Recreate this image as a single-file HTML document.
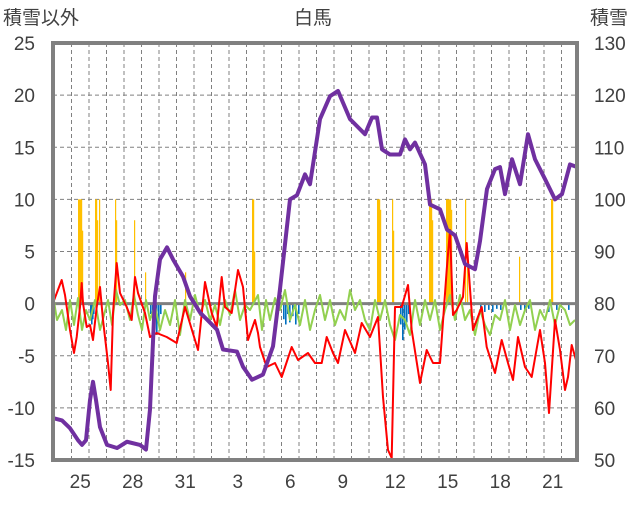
<!DOCTYPE html>
<html><head><meta charset="utf-8"><style>
body{margin:0;background:#fff;}
svg text{font-family:"Liberation Sans","Noto Sans CJK JP",sans-serif;fill:#404040;}
</style></head><body>
<svg id="c" width="636" height="501"></svg>
<script>
const xLabels=["25","28","31","3","6","9","12","15","18","21"];
const xLabelDays=[1,4,7,10,13,16,19,22,25,28];
const leftTicks=[25,20,15,10,5,0,-5,-10,-15];
const rightTicks=[130,120,110,100,90,80,70,60,50];
const snowX=[54,62,70,78,82,86,90,93,96,100,107,117,127,140,146,150,155,160,167,173,183,190,200,217,223,237,243,252,263,273,280,290,297,305,310,320,330,338,350,365,372,377,382,390,400,405,410,415,425,430,440,447,455,465,475,480,487,495,500,505,512,520,528,535,545,555,562,570,577];
const snowDepth=[58.0,57.6,56.1,53.8,52.9,53.8,61.5,65.0,61.5,56.3,52.9,52.3,53.5,52.9,52.0,59.7,81.4,88.5,90.8,88.5,85.2,81.4,78.3,75.0,71.2,70.8,67.9,65.4,66.4,71.8,82.8,100.0,100.8,104.8,102.9,115.4,119.8,120.8,115.4,112.5,115.7,115.7,109.6,108.6,108.6,111.5,109.6,110.9,106.7,99.0,98.1,94.2,93.1,87.6,86.6,92.0,102.0,105.8,106.2,101.0,107.7,102.9,112.5,107.7,103.9,100.0,101.0,106.7,106.2];
const tempX=[53,61.7,65,70,74,76.7,80,81.7,83,86.7,90,93,96.7,100,103,108,110.7,113,116.7,120,126.7,131.7,135,138,145,150,156.7,166.7,176.7,185,198,205,211.7,216.7,221.7,225,231.7,238,243,248,255,258,260,266.7,275,281.7,291.7,298,308,315,321.7,326.7,333,338,345,355,361.7,370,378,383,388,391.7,395,401.7,408,411.7,420,426.7,433,440,446.7,450,453,456.7,463,466.7,473,481.7,486.7,495,501.7,508,513,518,525,531.7,540,545,549,555,560,565,568,571.7,578];
const tempY=[303,280,295,330,353,337,307,283,303,327,325,340,307,287,320,363,390,313,263,293,307,320,277,293,313,337,333,337,343,307,350,282,313,327,277,307,313,270,287,340,320,333,347,367,363,377,347,360,353,363,363,337,353,363,330,353,323,337,317,397,450,458,307,307,285,330,383,350,363,363,270,230,315,310,297,243,330,307,347,373,340,363,380,337,367,377,330,363,413,320,350,390,377,345,367];
const windX=[53,57,62,66,70,74,78,82,86,90,95,100,104,108,112,116,120,125,130,134,138,142,146,150,155,160,165,170,175,180,185,190,195,200,205,210,215,220,225,230,235,240,245,250,258,262,266,270,275,280,285,290,295,300,305,310,315,320,325,330,335,340,345,350,355,360,365,370,375,380,385,390,395,400,405,410,415,420,425,430,435,440,445,450,455,460,465,470,475,480,485,490,495,500,505,510,515,520,525,530,535,540,545,550,555,560,565,570,575];
const windY=[295,320,310,330,300,325,298,330,310,320,300,330,315,300,325,290,305,300,320,295,315,330,300,320,305,330,310,325,300,335,300,320,295,315,300,320,305,325,300,315,290,320,305,310,295,330,300,320,298,310,290,320,305,325,300,330,310,295,320,300,325,310,320,290,310,300,320,330,300,320,300,325,340,315,320,335,300,325,300,320,300,330,310,295,320,295,320,310,335,310,325,335,315,320,300,330,305,325,310,300,330,310,320,300,325,305,310,325,320];
const snowfallX=[78,79,80,81,82,95,96,97,99,115,116,134,145,185,252,253,254,377,378,379,380,392,393,429,430,431,432,446,447,448,449,450,451,465,467,519,551,552];
const snowfall=[10,10,10,10,7,10,10,8,10,10,8,8,3,3,10,10,5,10,10,10,9,10,7,10,10,10,8,10,10,10,10,10,9,10,5,4.5,10,10];
const meltX=[90,91,92,93,150,152,154,156,158,160,283,285,287,289,292,295,298,400,402,404,406,408,480,484,488,492,496,500,520,524,528,548,556,568];
const melt=[-1.5,-2,-1.5,-1,-1,-1.8,-2.5,-3,-2,-1,-1.5,-2,-1,-1.8,-1.2,-2,-1,-2,-3.5,-2.5,-1.8,-1,-0.5,-0.8,-0.6,-0.8,-0.5,-0.6,-0.6,-0.8,-0.5,-0.8,-0.6,-0.6];

const svg=document.getElementById('c');const NS='http://www.w3.org/2000/svg';
const L=53,R=577,T=43,B=460;
const yL=v=>T+(25-v)*(B-T)/40;
const yR=v=>T+(130-v)*(B-T)/80;
const pxToVal=y=>25-(y-T)*40/(B-T);
const dayX=d=>54+d*17.5;
function mk(tag,attrs,parent){const e=document.createElementNS(NS,tag);for(const k in attrs)e.setAttribute(k,attrs[k]);(parent||svg).appendChild(e);return e;}
// grid
for(let d=1;d<30;d++){const g=mk('line',{x1:dayX(d),x2:dayX(d),y1:T,y2:B,stroke:'#808080','stroke-width':1,'stroke-dasharray':'4,3'});

}
leftTicks.forEach(v=>{if(v===25||v===-15||v===0)return;const g=mk('line',{x1:L,x2:R,y1:yL(v),y2:yL(v),stroke:'#808080','stroke-width':1,'stroke-dasharray':'4,3'});

});
// bars
snowfallX.forEach((x,i)=>{const v=snowfall[i];const r=mk('rect',{x:x,y:yL(v),width:1.2,height:yL(0)-yL(v),fill:'#FFC000'});

});
meltX.forEach((x,i)=>{const v=melt[i];const r=mk('rect',{x:x,y:yL(0),width:1.6,height:yL(v)-yL(0),fill:'#0070C0'});

});
// zero line
const z=mk('line',{x1:L,x2:R,y1:yL(0),y2:yL(0),stroke:'#808080','stroke-width':3});


function poly(xs,ys,color,w,name){const p=mk('polyline',{points:xs.map((x,i)=>x+','+ys[i]).join(' '),fill:'none',stroke:color,'stroke-width':w,'stroke-linejoin':'round'});

}
poly(windX,windX.map((x,i)=>yL(pxToVal(windY[i]))),'#92D050',2,'green-series');
poly(tempX,tempX.map((x,i)=>yL(pxToVal(tempY[i]))),'#FF0000',2,'temperature-line');
poly(snowX,snowDepth.map(yR),'#7030A0',4,'snow-depth-line');
// frame
const f=mk('rect',{x:L,y:T,width:R-L,height:B-T,fill:'none',stroke:'#808080','stroke-width':4});


// ticks
leftTicks.forEach(v=>{const t=mk('text',{x:35,y:yL(v)+7,'text-anchor':'end','font-size':19});t.textContent=v;

});
rightTicks.forEach(v=>{const t=mk('text',{x:594,y:yR(v)+7,'font-size':19});t.textContent=v;

});
xLabels.forEach((s,i)=>{const t=mk('text',{x:dayX(xLabelDays[i]+0.5),y:488,'text-anchor':'middle','font-size':19});t.textContent=s;

});
let t=mk('text',{x:313,y:24,'text-anchor':'middle','font-size':19});t.textContent='白馬';


t=mk('text',{x:3,y:24,'font-size':19});t.textContent='積雪以外';


t=mk('text',{x:590,y:24,'font-size':19});t.textContent='積雪';


</script>
</body></html>
